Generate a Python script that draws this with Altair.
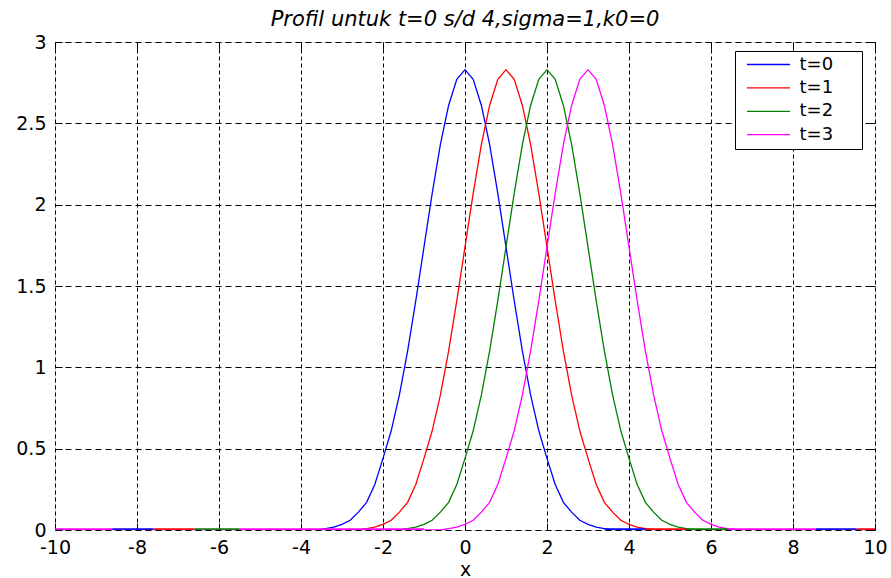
import altair as alt
import pandas as pd

FONT = "DejaVu Sans"

series_names = ["t=0", "t=1", "t=2", "t=3"]
series_colors = ["#0000ff", "#ff0000", "#008000", "#ff00ff"]
centers = [0, 1, 2, 3]

# sample offsets from each peak (x units)
offsets = [-3.6, -3.4, -3.2, -3.0, -2.8, -2.6, -2.4, -2.2, -2.0, -1.8, -1.6, -1.4,
           -1.2, -1.0, -0.8, -0.6, -0.4, -0.2, 0.0, 0.2, 0.4, 0.6, 0.8, 1.0,
           1.2, 1.4, 1.6, 1.8, 2.0, 2.2, 2.4, 2.6, 2.8, 3.0, 3.2, 3.4, 3.6]

# profile heights (one list per curve)
y_t0 = [0.0, 0.008, 0.018, 0.035, 0.06, 0.11, 0.17, 0.28, 0.44, 0.61, 0.83, 1.10,
        1.41, 1.74, 2.07, 2.37, 2.61, 2.77, 2.83, 2.77, 2.61, 2.37, 2.07, 1.74,
        1.41, 1.10, 0.83, 0.61, 0.44, 0.28, 0.17, 0.11, 0.06, 0.035, 0.018, 0.008, 0.0]
y_t1 = [0.0, 0.008, 0.018, 0.035, 0.06, 0.11, 0.17, 0.28, 0.44, 0.61, 0.83, 1.10,
        1.41, 1.74, 2.07, 2.37, 2.61, 2.77, 2.83, 2.77, 2.61, 2.37, 2.07, 1.74,
        1.41, 1.10, 0.83, 0.61, 0.44, 0.28, 0.17, 0.11, 0.06, 0.035, 0.018, 0.008, 0.0]
y_t2 = [0.0, 0.008, 0.018, 0.035, 0.06, 0.11, 0.17, 0.28, 0.44, 0.61, 0.83, 1.10,
        1.41, 1.74, 2.07, 2.37, 2.61, 2.77, 2.83, 2.77, 2.61, 2.37, 2.07, 1.74,
        1.41, 1.10, 0.83, 0.61, 0.44, 0.28, 0.17, 0.11, 0.06, 0.035, 0.018, 0.008, 0.0]
y_t3 = [0.0, 0.008, 0.018, 0.035, 0.06, 0.11, 0.17, 0.28, 0.44, 0.61, 0.83, 1.10,
        1.41, 1.74, 2.07, 2.37, 2.61, 2.77, 2.83, 2.77, 2.61, 2.37, 2.07, 1.74,
        1.41, 1.10, 0.83, 0.61, 0.44, 0.28, 0.17, 0.11, 0.06, 0.035, 0.018, 0.008, 0.0]
profiles = [y_t0, y_t1, y_t2, y_t3]

x_min, x_max = -10, 10

# coloured pieces visible along the zero line
base_start = [-10, -8.6, -7.6, -6.6, -5.5, 3.4, 4.4, 5.4, 6.4, 8.56, 9.55]
base_end = [-8.6, -7.6, -6.6, -5.5, -1.0, 4.4, 5.4, 6.4, 8.56, 9.55, 10]
base_series = ["t=3", "t=0", "t=1", "t=2", "t=3", "t=0", "t=1", "t=2", "t=3", "t=0", "t=1"]

x_ticks = [-10, -8, -6, -4, -2, 0, 2, 4, 6, 8, 10]
y_ticks = [0, 0.5, 1, 1.5, 2, 2.5, 3]

title_text = "Profil untuk t=0 s/d 4,sigma=1,k0=0"

rows = []
for name, c, prof in zip(series_names, centers, profiles):
    rows.append({"series": name, "x": x_min, "y": 0.0})
    for o, v in zip(offsets, prof):
        rows.append({"series": name, "x": c + o, "y": v})
    rows.append({"series": name, "x": x_max, "y": 0.0})
curves_df = pd.DataFrame(rows)

base_df = pd.DataFrame({"x": base_start, "x2": base_end, "series": base_series,
                        "y": [0.0] * len(base_start)})

W, H = 820, 488

x_scale = alt.Scale(domain=[x_min, x_max], nice=False, zero=False)
y_scale = alt.Scale(domain=[0, 3], nice=False, zero=False)
color_scale = alt.Scale(domain=series_names, range=series_colors)

lab = dict(labelFont=FONT, labelFontSize=19, labelColor="black",
           labelFlush=False, labelOverlap=False)

x_axis_main = alt.Axis(orient="bottom", values=x_ticks, labelExpr="'' + datum.value",
                       ticks=False, tickSize=0, domain=False, grid=True,
                       gridColor="black", gridDash=[4, 3], gridWidth=1, gridOpacity=1,
                       labelPadding=23, labelBaseline="alphabetic",
                       title="x", titleFont=FONT, titleFontSize=19,
                       titleFontWeight="normal", titleColor="black",
                       titleY=45, titleBaseline="alphabetic", **lab)
y_axis_main = alt.Axis(orient="left", values=y_ticks, labelExpr="'' + datum.value",
                       ticks=False, tickSize=0, domain=False, grid=True,
                       gridColor="black", gridDash=[6, 4], gridWidth=1, gridOpacity=1,
                       labelPadding=9, title="", **lab)

def tick_axis(orient, vals, off):
    return alt.Axis(orient=orient, values=vals, offset=off, labels=False, domain=False,
                    grid=False, ticks=True, tickSize=7, tickColor="black",
                    tickWidth=1, title="")

frame = alt.Chart(curves_df).mark_point(opacity=0, size=1).encode(
    x=alt.X("x:Q", scale=x_scale, axis=x_axis_main),
    y=alt.Y("y:Q", scale=y_scale, axis=y_axis_main),
)

legend = alt.Legend(title=".", titleOrient="right", titleColor="white", titleFontSize=18,
                    titleFont=FONT, titlePadding=17, orient="none", legendX=680, legendY=9,
                    padding=4.5, strokeColor="black", fillColor="white",
                    cornerRadius=0, symbolType="M-4,0H4", symbolSize=116,
                    symbolStrokeWidth=1.3, symbolOffset=20,
                    labelOffset=22, labelFont=FONT, labelFontSize=18,
                    labelColor="black", rowPadding=5.4)

curves = alt.Chart(curves_df).mark_line(strokeWidth=1.3, clip=True).encode(
    x=alt.X("x:Q", scale=x_scale, axis=tick_axis("top", x_ticks, -H)),
    y=alt.Y("y:Q", scale=y_scale, axis=tick_axis("right", y_ticks, -W)),
    color=alt.Color("series:N", scale=color_scale, legend=legend),
    detail="series:N",
)

baseline = alt.Chart(base_df).mark_rule(strokeWidth=1.5, yOffset=-1).encode(
    x=alt.X("x:Q", scale=x_scale, axis=tick_axis("bottom", x_ticks, -H)),
    x2="x2:Q",
    y=alt.Y("y:Q", scale=y_scale, axis=tick_axis("left", y_ticks, -W)),
    color=alt.Color("series:N", scale=color_scale, legend=None),
)

chart = alt.layer(frame, curves, baseline).resolve_axis(
    x="independent", y="independent"
).properties(
    width=W, height=H,
    title=alt.TitleParams(text=title_text, font=FONT, fontSize=21, fontStyle="italic",
                          fontWeight="normal", color="black", anchor="middle",
                          frame="group", offset=-14, baseline="alphabetic"),
    autosize=alt.AutoSizeParams(type="none"),
    padding={"left": 55, "top": 42, "right": 16, "bottom": 48},
).configure_view(stroke="black", strokeWidth=1).configure(background="white")

chart.save("out.html", embed_options={"renderer": "svg", "actions": False})
